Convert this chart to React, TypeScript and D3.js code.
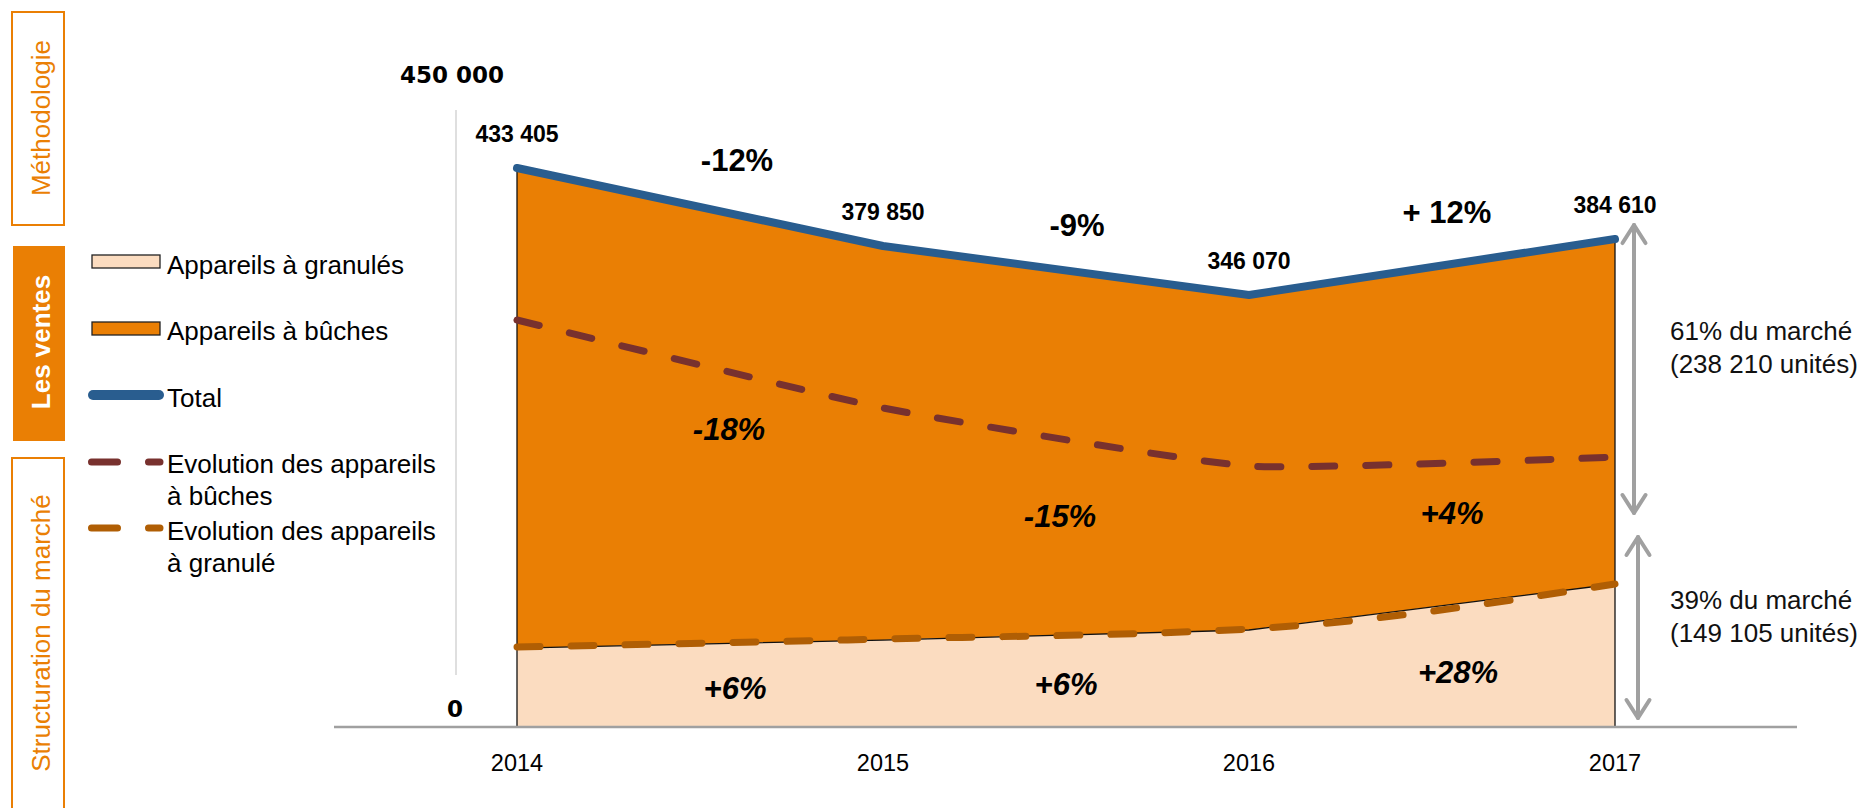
import React from 'react';
import * as d3 from 'd3';

// ---------- data ----------
const years = ['2014', '2015', '2016', '2017'];
const granules = [62100, 68400, 76300, 112500];
const buches = [377700, 310000, 263600, 271400];
const buchesTrend = [320200, 251000, 205300, 212400];
const granulesTrend = [62900, 69200, 77100, 112500];
const totalLabels = ['433 405', '379 850', '346 070', '384 610'];
const totalChange = ['-12%', '-9%', '+ 12%'];
const buchesChange = ['-18%', '-15%', '+4%'];
const granulesChange = ['+6%', '+6%', '+28%'];
const yTickLabels = ['0', '450 000'];
const tabLabels = ['Méthodologie', 'Les ventes', 'Structuration du marché'];
const legendLabels = [
  ['Appareils à granulés'],
  ['Appareils à bûches'],
  ['Total'],
  ['Evolution des appareils', 'à bûches'],
  ['Evolution des appareils', 'à granulé'],
];
const shareNotes = [
  ['61% du marché', '(238 210 unités)'],
  ['39% du marché', '(149 105 unités)'],
];

// ---------- styles ----------
const W = 1868;
const H = 808;
const FONT = '"Liberation Sans", Arial, sans-serif';
const ORANGE = '#EA7F04';
const PEACH = '#FBDCC0';
const BLUE = '#295D8F';
const BROWN = '#78312E';
const AMBER = '#B05E04';
const GREY = '#A0A0A0';

// label layout (annotation positions)
const totalChangePos = [[737, 171], [1077, 236], [1447, 223]];
const buchesChangePos = [[729, 440], [1060, 527], [1452, 524]];
const granulesChangePos = [[735, 699], [1066, 695], [1458, 683]];

export default function App() {
  const x = d3.scalePoint<string>().domain(years).range([517, 1615]);
  const y = d3.scaleLinear().domain([0, 450000]).range([727, 155]);

  const rows = years.map((yr, i) => ({ year: yr, granules: granules[i], buches: buches[i] }));
  const series = d3.stack<any>().keys(['granules', 'buches'])(rows);

  const area = d3
    .area<any>()
    .x((d: any) => x(d.data.year) as number)
    .y0((d: any) => y(d[0]))
    .y1((d: any) => y(d[1]));

  const topLine = d3
    .line<any>()
    .x((d: any) => x(d.data.year) as number)
    .y((d: any) => y(d[1]));

  const buchesLine = d3
    .line<number>()
    .x((_d, i) => x(years[i]) as number)
    .y((d) => y(d))
    .curve(d3.curveCardinal.tension(0.55));

  const granulesLine = d3
    .line<number>()
    .x((_d, i) => x(years[i]) as number)
    .y((d) => y(d))
    .curve(d3.curveMonotoneX);

  const totals = series[1].map((d: any) => d[1]);
  const x0 = x(years[0]) as number;
  const x3 = x(years[3]) as number;
  const base = y(0);

  const arrowX1 = x3 + 19;
  const arrowX2 = x3 + 23;
  const a1Top = y(totals[3]) - 14;
  const a1Bot = 513;
  const a2Top = 537;
  const a2Bot = base - 9;
  const chevUp = (cx: number, cy: number) => `M${cx - 11.5},${cy + 18}L${cx},${cy}L${cx + 11.5},${cy + 18}`;
  const chevDown = (cx: number, cy: number) => `M${cx - 11.5},${cy - 18}L${cx},${cy}L${cx + 11.5},${cy - 18}`;

  const legendY = [261.5, 328.5, 395, 462, 528];
  const legendTextY = [274, 340, 407, 473, 540];

  return (
    <svg
      width={W}
      height={H}
      style={{ position: 'absolute', left: 0, top: 0, background: '#fff' }}
      fontFamily={FONT}
    >
      {/* side tabs */}
      <rect x={12} y={12} width={52} height={213} fill="#fff" stroke={ORANGE} strokeWidth={2} />
      <text transform="translate(49.5,118) rotate(-90)" textAnchor="middle" fontSize={26} fill={ORANGE}>
        {tabLabels[0]}
      </text>
      <rect x={13} y={246} width={52} height={195} fill={ORANGE} />
      <text transform="translate(49.5,342) rotate(-90)" textAnchor="middle" fontSize={26} fontWeight="bold" fill="#fff">
        {tabLabels[1]}
      </text>
      <rect x={12} y={458} width={52} height={380} fill="#fff" stroke={ORANGE} strokeWidth={2} />
      <text transform="translate(49.5,633) rotate(-90)" textAnchor="middle" fontSize={26} fill={ORANGE}>
        {tabLabels[2]}
      </text>

      {/* legend */}
      <g>
        <rect x={92} y={255} width={68} height={13} fill={PEACH} stroke="#222" strokeWidth={1.3} />
        <rect x={92} y={322} width={68} height={13} fill={ORANGE} stroke="#222" strokeWidth={1.3} />
        <line x1={93} x2={159} y1={legendY[2]} y2={legendY[2]} stroke={BLUE} strokeWidth={10} strokeLinecap="round" />
        <line x1={91.5} x2={160} y1={legendY[3]} y2={legendY[3]} stroke={BROWN} strokeWidth={7} strokeLinecap="round" strokeDasharray="26 31" />
        <line x1={91.5} x2={160} y1={legendY[4]} y2={legendY[4]} stroke={AMBER} strokeWidth={7} strokeLinecap="round" strokeDasharray="26 31" />
        {legendLabels.map((lines, i) => (
          <text key={i} x={167} y={legendTextY[i]} fontSize={26} fill="#000">
            {lines.map((l, j) => (
              <tspan key={j} x={167} dy={j === 0 ? 0 : 32}>
                {l}
              </tspan>
            ))}
          </text>
        ))}
      </g>

      {/* y axis */}
      <line x1={456} x2={456} y1={110} y2={675} stroke="#D4D4D4" strokeWidth={1.5} />
      <text x={452} y={83} textAnchor="middle" fontFamily='"DejaVu Sans", Verdana, sans-serif' fontWeight="bold" fontSize={23}>
        {yTickLabels[1]}
      </text>
      <text x={455} y={717} textAnchor="middle" fontFamily='"DejaVu Sans", Verdana, sans-serif' fontWeight="bold" fontSize={23}>
        {yTickLabels[0]}
      </text>

      {/* stacked areas */}
      <path d={area(series[1] as any) || ''} fill={ORANGE} />
      <path d={area(series[0] as any) || ''} fill={PEACH} />
      <path d={topLine(series[0] as any) || ''} fill="none" stroke="#111" strokeWidth={1.3} />
      <line x1={x0} x2={x0} y1={y(totals[0])} y2={base} stroke="#111" strokeWidth={1.3} />
      <line x1={x3} x2={x3} y1={y(totals[3])} y2={base} stroke="#111" strokeWidth={1.3} />

      {/* x axis */}
      <line x1={334} x2={1797} y1={base} y2={base} stroke={GREY} strokeWidth={2.5} />
      {years.map((yr) => (
        <text key={yr} x={x(yr)} y={771} textAnchor="middle" fontSize={23.5} fill="#000">
          {yr}
        </text>
      ))}

      {/* trend lines */}
      <path d={buchesLine(buchesTrend) || ''} fill="none" stroke={BROWN} strokeWidth={7} strokeLinecap="round" strokeDasharray="23 31" />
      <path d={granulesLine(granulesTrend) || ''} fill="none" stroke={AMBER} strokeWidth={7} strokeLinecap="round" strokeDasharray="23 31" />

      {/* total line */}
      <path d={topLine(series[1] as any) || ''} fill="none" stroke={BLUE} strokeWidth={8} strokeLinecap="round" strokeLinejoin="round" />

      {/* total labels */}
      {years.map((yr, i) => (
        <text key={yr} x={x(yr)} y={y(totals[i]) - 26} textAnchor="middle" fontWeight="bold" fontSize={23} fill="#000">
          {totalLabels[i]}
        </text>
      ))}
      {totalChange.map((t, i) => (
        <text key={i} x={totalChangePos[i][0]} y={totalChangePos[i][1]} textAnchor="middle" fontWeight="bold" fontSize={31} fill="#000">
          {t}
        </text>
      ))}
      {buchesChange.map((t, i) => (
        <text key={i} x={buchesChangePos[i][0]} y={buchesChangePos[i][1]} textAnchor="middle" fontWeight="bold" fontStyle="italic" fontSize={31} fill="#000">
          {t}
        </text>
      ))}
      {granulesChange.map((t, i) => (
        <text key={i} x={granulesChangePos[i][0]} y={granulesChangePos[i][1]} textAnchor="middle" fontWeight="bold" fontStyle="italic" fontSize={31} fill="#000">
          {t}
        </text>
      ))}

      {/* share arrows */}
      <g stroke={GREY} strokeWidth={4} fill="none" strokeLinecap="round" strokeLinejoin="round">
        <line x1={arrowX1} x2={arrowX1} y1={a1Top} y2={a1Bot} />
        <path d={chevUp(arrowX1, a1Top)} />
        <path d={chevDown(arrowX1, a1Bot)} />
        <line x1={arrowX2} x2={arrowX2} y1={a2Top} y2={a2Bot} />
        <path d={chevUp(arrowX2, a2Top)} />
        <path d={chevDown(arrowX2, a2Bot)} />
      </g>
      {shareNotes.map((lines, i) => (
        <text key={i} x={1670} y={i === 0 ? 340 : 609} fontSize={26} fill="#111">
          {lines.map((l, j) => (
            <tspan key={j} x={1670} dy={j === 0 ? 0 : 33}>
              {l}
            </tspan>
          ))}
        </text>
      ))}
    </svg>
  );
}
